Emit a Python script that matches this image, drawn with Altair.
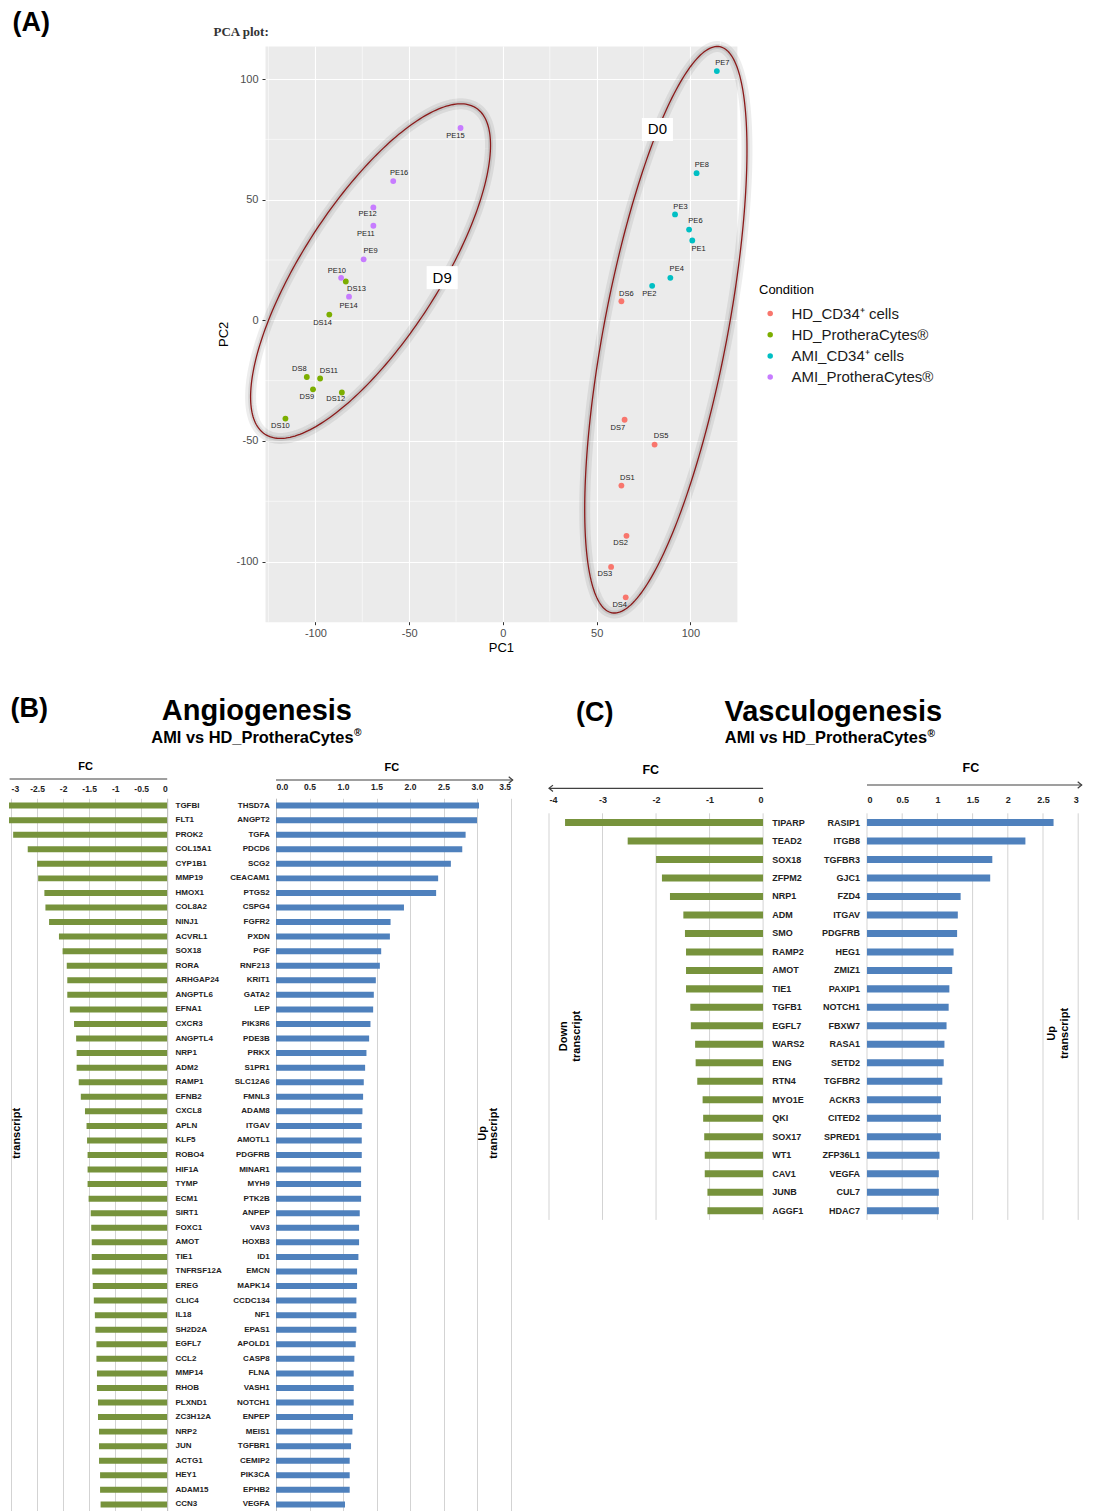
import altair as alt
import pandas as pd
import numpy as np

FONT = "Liberation Sans"
GREEN = "#77933C"
BLUE = "#4F81BD"
GRID = "#D3D3D3"
LINE = "#404040"
TXT = "#222222"

# ---------------- Panel A : PCA ----------------
cond_names = ["HD_CD34\u207a cells", "HD_ProtheraCytes\u00ae",
              "AMI_CD34\u207a cells", "AMI_ProtheraCytes\u00ae"]
cond_colors = ["#F8766D", "#7CAE00", "#00BFC4", "#C77CFF"]

samples = ["DS1", "DS2", "DS3", "DS4", "DS5", "DS6", "DS7",
           "DS8", "DS9", "DS10", "DS11", "DS12", "DS13", "DS14",
           "PE1", "PE2", "PE3", "PE4", "PE6", "PE7", "PE8",
           "PE9", "PE10", "PE11", "PE12", "PE14", "PE15", "PE16"]
sample_cond = [0] * 7 + [1] * 7 + [2] * 7 + [3] * 7
pc1 = [63.2, 65.9, 57.7, 65.5, 80.9, 63.2, 64.9,
       -104.6, -101.3, -116.0, -97.5, -85.9, -83.8, -92.6,
       101.0, 79.6, 91.8, 89.3, 99.3, 114.1, 103.3,
       -74.3, -86.3, -69.1, -69.1, -82.1, -22.6, -58.5]
pc2 = [-68.5, -89.3, -102.2, -114.8, -51.5, 7.9, -41.2,
       -23.5, -28.6, -40.7, -24.1, -29.9, 16.1, 2.4,
       33.1, 14.3, 43.9, 17.6, 37.6, 103.3, 61.0,
       25.3, 17.6, 39.2, 46.8, 9.8, 79.7, 57.7]
label_x = [66.4, 62.8, 54.4, 62.3, 84.4, 65.8, 61.3,
           -108.6, -104.6, -118.7, -92.8, -89.2, -78.1, -96.2,
           104.4, 78.1, 94.7, 92.7, 102.7, 117.1, 106.1,
           -70.6, -88.6, -73.1, -72.2, -82.3, -25.3, -55.4]
label_y = [-65.4, -92.4, -105.2, -118.1, -47.8, 11.1, -44.5,
           -20.3, -31.8, -43.8, -21.0, -32.8, 12.9, -1.1,
           29.5, 11.1, 46.8, 21.2, 41.0, 106.5, 64.2,
           28.8, 20.5, 35.6, 43.9, 5.8, 76.5, 61.2]

# cluster ellipses (centre and the two half-axis vectors, in PC units)
ell_names = ["D9", "D0"]
ell_cx = [-70.6, 86.9]
ell_cy = [20.4, -3.9]
ell_ux = [56.3, 28.8]
ell_uy = [67.6, 117.3]
ell_vx = [30.4, 32.3]
ell_vy = [-15.4, -4.8]
clus_lx = [-32.4, 82.4]
clus_ly = [17.7, 79.1]

x_dom = [-126.9, 124.8]
y_dom = [-124.9, 113.7]
major_ticks = [-100, -50, 0, 50, 100]
minor_x = [-125, -75, -25, 25, 75]
minor_y = [-75, -25, 25, 75]

WA, HA = 471.9, 575.7

dfA = pd.DataFrame({
    "sample": samples,
    "pc1": pc1, "pc2": pc2,
    "cond": [cond_names[c] for c in sample_cond],
    "lx": label_x, "ly": label_y,
})
t = np.linspace(0, 2 * np.pi, 241)
rows = []
for k in range(len(ell_names)):
    for i, tt in enumerate(t):
        rows.append({"grp": ell_names[k], "i": i,
                     "ex": ell_cx[k] + ell_ux[k] * np.cos(tt) + ell_vx[k] * np.sin(tt),
                     "ey": ell_cy[k] + ell_uy[k] * np.cos(tt) + ell_vy[k] * np.sin(tt)})
dfE = pd.DataFrame(rows)
dfC = pd.DataFrame({"name": ell_names, "lx": clus_lx, "ly": clus_ly})
one = pd.DataFrame({"a": [0]})

hy = "datum.value < 0 ? '-' + format(-datum.value, '~g') : format(datum.value, '~g')"
xs = alt.Scale(domain=x_dom, nice=False, zero=False)
ys = alt.Scale(domain=y_dom, nice=False, zero=False)

x_axis = alt.Axis(title="PC1", values=major_ticks, grid=True, gridColor="white",
                  gridWidth=1.1, domain=False, ticks=True, tickColor="#333333",
                  tickSize=3, tickWidth=1, labelColor="#4D4D4D", labelFontSize=11,
                  labelFont=FONT, labelPadding=3, titleFont=FONT, titleFontSize=13,
                  titleFontWeight="normal", titleColor="black", titlePadding=3,
                  labelExpr=hy)
y_axis = alt.Axis(title="PC2", values=major_ticks, grid=True, gridColor="white",
                  gridWidth=1.1, domain=False, ticks=True, tickColor="#333333",
                  tickSize=3, tickWidth=1, labelColor="#4D4D4D", labelFontSize=11,
                  labelFont=FONT, labelPadding=4, titleFont=FONT, titleFontSize=13,
                  titleFontWeight="normal", titleColor="black", titlePadding=5,
                  labelExpr=hy)


def X(field):
    return alt.X(field, scale=xs, axis=x_axis)


def Y(field):
    return alt.Y(field, scale=ys, axis=y_axis)


minx = alt.Chart(pd.DataFrame({"v": minor_x})).mark_rule(color="white", strokeWidth=0.55).encode(
    x=X("v:Q"))
miny = alt.Chart(pd.DataFrame({"v": minor_y})).mark_rule(color="white", strokeWidth=0.55).encode(
    y=Y("v:Q"))
shadow = alt.Chart(dfE).mark_line(color="black", opacity=0.07, strokeWidth=11).encode(
    x=X("ex:Q"), y=Y("ey:Q"), detail="grp:N", order="i:Q")
shadow2 = alt.Chart(dfE).mark_line(color="black", opacity=0.09, strokeWidth=5).encode(
    x=X("ex:Q"), y=Y("ey:Q"), detail="grp:N", order="i:Q")
ellipse = alt.Chart(dfE).mark_line(color="#8B1A1A", strokeWidth=1.3).encode(
    x=X("ex:Q"), y=Y("ey:Q"), detail="grp:N", order="i:Q")
points = alt.Chart(dfA).mark_circle(size=34, opacity=1).encode(
    x=X("pc1:Q"), y=Y("pc2:Q"),
    color=alt.Color("cond:N", scale=alt.Scale(domain=cond_names, range=cond_colors),
                    legend=alt.Legend(title="Condition", orient="none", legendX=750, legendY=238,
                                      titleFont=FONT, titleFontSize=13, titleFontWeight="normal",
                                      titleColor="black", titlePadding=9,
                                      labelFont=FONT, labelFontSize=15, labelColor="#1A1A1A",
                                      symbolType="circle", symbolSize=30, rowPadding=5.2,
                                      symbolOffset=3.7, labelOffset=13.7)))
plabels = alt.Chart(dfA).mark_text(font=FONT, fontSize=7.5, color=TXT).encode(
    x=X("lx:Q"), y=Y("ly:Q"), text="sample:N")
cbox = alt.Chart(dfC).mark_point(shape="M-1.35,-1H1.35V1H-1.35Z", size=530, filled=True,
                                 fill="white", opacity=1, strokeWidth=0).encode(
    x=X("lx:Q"), y=Y("ly:Q"))
ctext = alt.Chart(dfC).mark_text(font=FONT, fontSize=15, color="black").encode(
    x=X("lx:Q"), y=Y("ly:Q"), text="name:N")
anchorA = alt.Chart(one).mark_point(size=1, opacity=0, filled=True).encode(
    x=alt.value(100), y=alt.value(HA + 40))

chartA = alt.layer(minx, miny, shadow, shadow2, ellipse, points, plabels, cbox, ctext,
                   anchorA).properties(
    width=WA, height=HA, view=alt.ViewBackground(fill="#EBEBEB", stroke="transparent"))

tA = alt.Chart(one).mark_text(text="(A)", font=FONT, fontSize=27, fontWeight="bold",
                              align="left", baseline="top", color="black").encode(
    x=alt.value(3.5), y=alt.value(-36.5))
tPCA = alt.Chart(one).mark_text(text="PCA plot:", font="Liberation Serif", fontSize=13,
                                fontWeight="bold", align="left", baseline="middle",
                                color="#333333").encode(x=alt.value(204.5), y=alt.value(-14.5))
spacerA = alt.layer(tA, tPCA).properties(width=256, height=10)

row1 = alt.hconcat(spacerA, chartA, spacing=0, bounds="flush")

# ---------------- Panel B : Angiogenesis ----------------
b_down_genes = ["TGFBI", "FLT1", "PROK2", "COL15A1", "CYP1B1", "MMP19", "HMOX1", "COL8A2",
                "NINJ1", "ACVRL1", "SOX18", "RORA", "ARHGAP24", "ANGPTL6", "EFNA1", "CXCR3",
                "ANGPTL4", "NRP1", "ADM2", "RAMP1", "EFNB2", "CXCL8", "APLN", "KLF5",
                "ROBO4", "HIF1A", "TYMP", "ECM1", "SIRT1", "FOXC1", "AMOT", "TIE1",
                "TNFRSF12A", "EREG", "CLIC4", "IL18", "SH2D2A", "EGFL7", "CCL2", "MMP14",
                "RHOB", "PLXND1", "ZC3H12A", "NRP2", "JUN", "ACTG1", "HEY1", "ADAM15", "CCN3"]
b_down_fc = [-3.30, -3.07, -2.96, -2.68, -2.50, -2.48, -2.36, -2.34,
             -2.27, -2.08, -2.01, -1.93, -1.92, -1.92, -1.87, -1.79,
             -1.75, -1.74, -1.74, -1.70, -1.66, -1.58, -1.55, -1.54,
             -1.53, -1.53, -1.53, -1.51, -1.47, -1.46, -1.45, -1.45,
             -1.44, -1.43, -1.41, -1.39, -1.38, -1.36, -1.36, -1.35,
             -1.35, -1.33, -1.33, -1.31, -1.31, -1.31, -1.29, -1.29, -1.28]
b_up_genes = ["THSD7A", "ANGPT2", "TGFA", "PDCD6", "SCG2", "CEACAM1", "PTGS2", "CSPG4",
              "FGFR2", "PXDN", "PGF", "RNF213", "KRIT1", "GATA2", "LEP", "PIK3R6",
              "PDE3B", "PRKX", "S1PR1", "SLC12A6", "FMNL3", "ADAM8", "ITGAV", "AMOTL1",
              "PDGFRB", "MINAR1", "MYH9", "PTK2B", "ANPEP", "VAV3", "HOXB3", "ID1",
              "EMCN", "MAPK14", "CCDC134", "NF1", "EPAS1", "APOLD1", "CASP8", "FLNA",
              "VASH1", "NOTCH1", "ENPEP", "MEIS1", "TGFBR1", "CEMIP2", "PIK3CA", "EPHB2", "VEGFA"]
b_up_fc = [3.03, 3.00, 2.83, 2.78, 2.61, 2.42, 2.39, 1.91,
           1.71, 1.70, 1.57, 1.55, 1.49, 1.46, 1.45, 1.41,
           1.39, 1.35, 1.33, 1.31, 1.30, 1.29, 1.28, 1.28,
           1.28, 1.27, 1.27, 1.27, 1.25, 1.24, 1.24, 1.23,
           1.21, 1.21, 1.20, 1.20, 1.20, 1.19, 1.17, 1.16,
           1.16, 1.16, 1.15, 1.14, 1.12, 1.10, 1.10, 1.10, 1.03]
b_down_ticks = [-3, -2.5, -2, -1.5, -1, -0.5, 0]
b_up_ticks = [0, 0.5, 1, 1.5, 2, 2.5, 3, 3.5]

# ---------------- Panel C : Vasculogenesis ----------------
c_down_genes = ["TIPARP", "TEAD2", "SOX18", "ZFPM2", "NRP1", "ADM", "SMO", "RAMP2", "AMOT",
                "TIE1", "TGFB1", "EGFL7", "WARS2", "ENG", "RTN4", "MYO1E", "QKI", "SOX17",
                "WT1", "CAV1", "JUNB", "AGGF1"]
c_down_fc = [-3.70, -2.53, -2.00, -1.89, -1.74, -1.49, -1.46, -1.44, -1.44,
             -1.44, -1.36, -1.35, -1.27, -1.26, -1.23, -1.13, -1.12, -1.10,
             -1.09, -1.09, -1.04, -1.04]
c_up_genes = ["RASIP1", "ITGB8", "TGFBR3", "GJC1", "FZD4", "ITGAV", "PDGFRB", "HEG1", "ZMIZ1",
              "PAXIP1", "NOTCH1", "FBXW7", "RASA1", "SETD2", "TGFBR2", "ACKR3", "CITED2",
              "SPRED1", "ZFP36L1", "VEGFA", "CUL7", "HDAC7"]
c_up_fc = [2.65, 2.25, 1.78, 1.75, 1.33, 1.29, 1.28, 1.23, 1.21,
           1.17, 1.16, 1.13, 1.10, 1.09, 1.07, 1.05, 1.05,
           1.05, 1.03, 1.02, 1.02, 1.02]
c_down_ticks = [-4, -3, -2, -1, 0]
c_up_ticks = [0, 0.5, 1, 1.5, 2, 2.5, 3]

HB = 713.4
HC = 422
C_RANGE = [15, 421.6]
W_BL, W_BR, W_CL, W_CR = 158.2, 234.5, 214.1, 211.2
SP1, SP2, SP3 = 107.1, 37.6, 102.3


def txt(text, x, y, size, align="center", angle=0, weight="bold", lh=None, color="black"):
    kw = dict(text=text, font=FONT, fontSize=size, fontWeight=weight, align=align,
              baseline="middle", color=color)
    if angle:
        kw["angle"] = angle
    if lh:
        kw["lineHeight"] = lh
    return alt.Chart(one).mark_text(**kw).encode(x=alt.value(x), y=alt.value(y))


def hline(x1, x2, y):
    return alt.Chart(one).mark_rule(color=LINE, strokeWidth=1.2).encode(
        x=alt.value(x1), x2=alt.value(x2), y=alt.value(y))


def arrowhead(x, y, right=True):
    shape = "M-1,-0.8L0,0L-1,0.8" if right else "M1,-0.8L0,0L1,0.8"
    return alt.Chart(one).mark_point(shape=shape, size=64, filled=False, color=LINE,
                                     strokeWidth=1.2, opacity=1).encode(
        x=alt.value(x), y=alt.value(y))


def xaxis(ticks, expr, size, pad, offset=None, flush=None):
    kw = dict(orient="top", values=ticks, labelExpr=expr, title=None, domain=False,
              ticks=False, tickSize=0, labelPadding=pad, labelFont=FONT, labelFontSize=size,
              labelFontWeight="bold", labelColor=TXT)
    if offset is None:
        kw.update(grid=True, gridColor=GRID, gridWidth=1)
    else:
        kw.update(grid=False, offset=offset)
    if flush is not None:
        kw.update(labelFlush=flush)
    return alt.Axis(**kw)


def yaxis(orient, size, pad, domain):
    kw = dict(orient=orient, title=None, ticks=False, labelPadding=pad, labelFont=FONT,
              labelFontSize=size, labelFontWeight="bold", labelColor=TXT,
              labelAlign="left" if orient == "right" else "right")
    if domain:
        kw.update(domain=True, domainColor="#BDBDBD", domainWidth=1)
    else:
        kw.update(domain=False)
    return alt.Axis(**kw)


def bars(genes, fc, color, xsc, xax, yorient, ysize, ypad, yscale, domain=True):
    df = pd.DataFrame({"gene": genes, "fc": fc})
    return alt.Chart(df).mark_bar(color=color, clip=True).encode(
        x=alt.X("fc:Q", scale=xsc, axis=xax),
        x2=alt.datum(0),
        y=alt.Y("gene:N", sort=genes, scale=yscale, axis=yaxis(yorient, ysize, ypad, domain)))


def grid_rules(ticks, xsc, xax):
    return alt.Chart(pd.DataFrame({"t": ticks})).mark_rule(color=GRID, strokeWidth=1).encode(
        x=alt.X("t:Q", scale=xsc, axis=xax),
        y=alt.value(C_RANGE[0]), y2=alt.value(C_RANGE[1]))


def sub_reg(main, x, y, size):
    # subtitle with a small raised registered sign
    w = 12.336 * size
    return [txt(main, x, y, size, align="left"),
            txt("\u00ae", x + w + 0.3, y - 4.5, size * 0.62, align="left")]


b_yscale = alt.Scale(paddingInner=0.588, paddingOuter=0.294)
c_yscale = alt.Scale(range=C_RANGE, paddingInner=0.621, paddingOuter=0.3105)
fmt1 = "format(datum.value, '.1f')"
fmtg = "format(datum.value, '~g')"

anchorB = alt.Chart(one).mark_point(size=1, opacity=0, filled=True).encode(
    x=alt.value(100), y=alt.value(-120))

bl_sc = alt.Scale(domain=[-3.04, 0], nice=False)
br_sc = alt.Scale(domain=[0, 3.5], nice=False)
cl_sc = alt.Scale(domain=[-4, 0], nice=False)
cr_sc = alt.Scale(domain=[0, 3], nice=False)
bl_ax = xaxis(b_down_ticks, hy, 8.5, 4.4, flush=3)
br_ax = xaxis(b_up_ticks, fmt1, 8.5, 7.1)
cl_ax = xaxis(c_down_ticks, hy, 9, 9, offset=-C_RANGE[0])
cr_ax = xaxis(c_up_ticks, fmtg, 9, 9, offset=-C_RANGE[0])

BL = alt.layer(
    bars(b_down_genes, b_down_fc, GREEN, bl_sc, bl_ax, "right", 8, 7.8, b_yscale),
    hline(0.6, W_BL, -19.3),
    txt("FC", 76.5, -31, 11),
    txt("(B)", 1.5, -89, 27, align="left"),
    txt("Angiogenesis", 247.9, -87, 29),
    *sub_reg("AMI vs HD_ProtheraCytes", 142.3, -60.5, 16.4),
    txt("transcript", 8, 335, 11, angle=270),
    anchorB,
).properties(width=W_BL, height=HB)

BR = alt.layer(
    bars(b_up_genes, b_up_fc, BLUE, br_sc, br_ax, "left", 8, 6.7, b_yscale),
    hline(0, 236.7, -18.3),
    arrowhead(236.7, -18.3),
    txt("FC", 115.9, -30.7, 11),
    txt(["Up", "transcript"], 207.2, 335, 11, angle=270, lh=11),
).properties(width=W_BR, height=HB)

CL = alt.layer(
    grid_rules(c_down_ticks, cl_sc, cl_ax),
    bars(c_down_genes, c_down_fc, GREEN, cl_sc, cl_ax, "right", 9, 8.7, c_yscale, domain=False),
    hline(0, W_CL, -10),
    arrowhead(0, -10, right=False),
    txt("FC", 101.8, -28, 12.5),
    txt("(C)", 45.8, -85, 27),
    txt("Vasculogenesis", 284.3, -86, 29),
    *sub_reg("AMI vs HD_ProtheraCytes", 175.8, -60, 16.4),
    txt(["Down", "transcript"], 15, 238, 11, angle=270, lh=13),
).properties(width=W_CL, height=HC)

CR = alt.layer(
    grid_rules(c_up_ticks, cr_sc, cr_ax),
    bars(c_up_genes, c_up_fc, BLUE, cr_sc, cr_ax, "left", 9, 7.4, c_yscale, domain=False),
    hline(0, 214.7, -13.3),
    arrowhead(214.7, -13.3),
    txt("FC", 103.9, -30, 12.5),
    txt(["Up", "transcript"], 184.5, 235, 11, angle=270, lh=13),
).properties(width=W_CR, height=HC)


def spacer(w):
    return alt.Chart(one).mark_point(opacity=0, size=1).encode(
        x=alt.value(0), y=alt.value(0)).properties(width=w, height=10)


row2 = alt.hconcat(BL, spacer(SP1), BR, spacer(SP2), CL, spacer(SP3), CR,
                   spacing=0, bounds="flush")

chart = alt.vconcat(row1, row2, spacing=14.3).properties(padding=0).configure(
    font=FONT, view=alt.ViewConfig(stroke="transparent"))

chart.save("out.html", embed_options={"renderer": "svg", "actions": False})
